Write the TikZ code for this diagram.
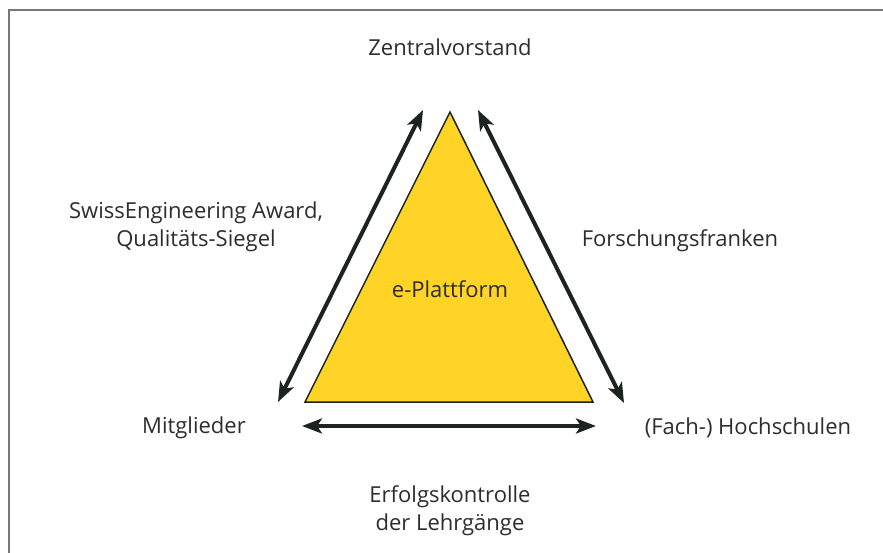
\documentclass[tikz,border=0pt]{standalone}
\usepackage{fontspec}
\setmainfont{Open Sans}
\usetikzlibrary{arrows.meta}
\definecolor{tri}{RGB}{255,212,38}
\definecolor{arr}{RGB}{28,36,32}
\definecolor{txt}{RGB}{45,45,45}
\definecolor{frame}{RGB}{120,120,120}
\tikzset{
  lbl/.style={text=txt, font=\fontsize{22}{28}\selectfont, align=center, inner sep=0pt},
  dblarrow/.style={draw=arr, line width=4pt, {Stealth[length=20pt,width=15pt,inset=5pt]}-{Stealth[length=20pt,width=15pt,inset=5pt]}}
}
\begin{document}
\begin{tikzpicture}[x=1pt,y=-1pt]
\useasboundingbox (0,0) rectangle (883,553);
\fill[white] (0,0) rectangle (883,553);
\draw[frame, line width=1.2pt] (9,553) -- (9,10) -- (883,10);
% triangle
\coordinate (A) at (450,112);
\coordinate (B) at (305,402);
\coordinate (C) at (593,402);
\filldraw[fill=tri, draw=arr, line width=1.5pt, line join=miter] (A) -- (B) -- (C) -- cycle;
\node[lbl] (plat) at (450,289) {e-Plattform};
% arrows
\coordinate (lt) at (423,110);
\coordinate (lb) at (278,402);
\coordinate (rt) at (478,110);
\coordinate (rb) at (624,403);
\coordinate (bl) at (302,426);
\coordinate (br) at (596,426);
\draw[dblarrow] (lb) -- (lt);
\draw[dblarrow] (rb) -- (rt);
\draw[dblarrow] (bl) -- (br);
% labels
\node[lbl] (zv) at (450,47) {Zentralvorstand};
\node[lbl] (sw) at (196,227) {SwissEngineering Award,\\Qualitäts-Siegel};
\node[lbl] (ff) at (680,241) {Forschungsfranken};
\node[lbl] (mg) at (194,428) {Mitglieder};
\node[lbl] (hs) at (748,428) {(Fach-) Hochschulen};
\node[lbl] (ek) at (450,511) {Erfolgskontrolle\\der Lehrgänge};
\end{tikzpicture}
\end{document}
